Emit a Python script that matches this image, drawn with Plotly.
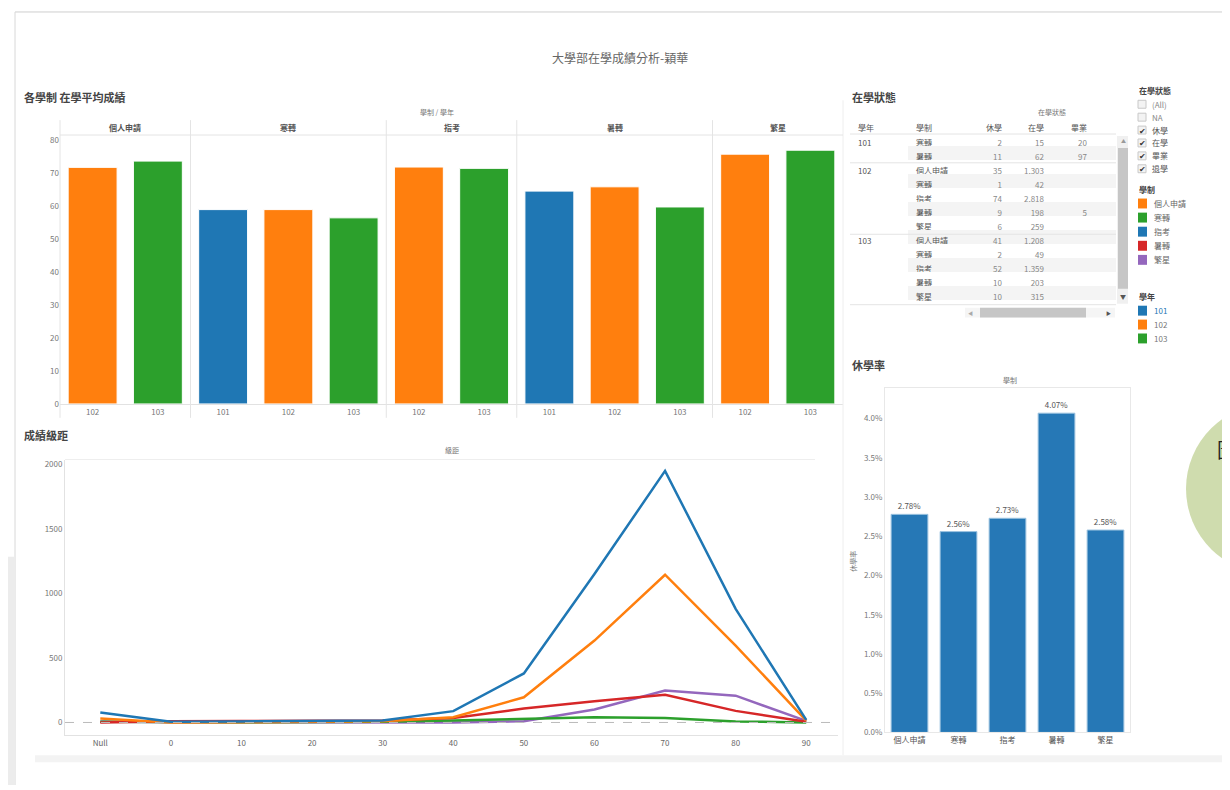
import plotly.graph_objects as go

# the page body has an 8px margin, so the figure is drawn 8px in from the corner
OFF = 8
W, H = 1230 - OFF, 790 - OFF
FONT = "Noto Sans CJK TC, Noto Sans, sans-serif"


def fx(x):
    return (x - OFF) / W


def fy(y):
    return 1 - (y - OFF) / H


# ---- data ----
systems = ['個人申請', '寒轉', '指考', '暑轉', '繁星']
system_colors = ['#ff7f0e', '#2ca02c', '#1f77b4', '#d62728', '#9467bd']
years = ['101', '102', '103']
year_colors = ['#1f77b4', '#ff7f0e', '#2ca02c']

# 各學制 在學平均成績
avg_system = ['個人申請', '個人申請', '寒轉', '寒轉', '寒轉', '指考', '指考',
              '暑轉', '暑轉', '暑轉', '繁星', '繁星']
avg_year = ['102', '103', '101', '102', '103', '102', '103',
            '101', '102', '103', '102', '103']
avg_score = [71.7, 73.6, 58.9, 58.9, 56.4, 71.8, 71.4, 64.5, 65.8, 59.7, 75.7, 76.9]

# 成績級距
grade_bins = ['Null', '0', '10', '20', '30', '40', '50', '60', '70', '80', '90']
count_zhikao = [78, 5, 8, 10, 15, 88, 380, 1150, 1950, 880, 20]
count_geren = [30, 0, 2, 5, 10, 40, 195, 635, 1145, 595, 15]
count_shuzhuan = [0, 10, 12, 15, 15, 35, 108, 165, 215, 90, 5]
count_fanxing = [8, 1, 2, 3, 4, 0, 10, 100, 248, 208, 12]
count_hanzhuan = [5, 1, 2, 3, 5, 15, 30, 40, 35, 8, 0]

# 休學率
leave_rate = [2.78, 2.56, 2.73, 4.07, 2.58]
rate_ticks = [0, 0.5, 1, 1.5, 2, 2.5, 3, 3.5, 4]

# 在學狀態 table
tbl_year = ['101', '', '102', '', '', '', '', '103', '', '', '', '']
tbl_system = ['寒轉', '暑轉', '個人申請', '寒轉', '指考', '暑轉', '繁星',
              '個人申請', '寒轉', '指考', '暑轉', '繁星']
tbl_leave = ['2', '11', '35', '1', '74', '9', '6', '41', '2', '52', '10', '10']
tbl_enrolled = ['15', '62', '1,303', '42', '2,818', '198', '259',
                '1,208', '49', '1,359', '203', '315']
tbl_graduated = ['20', '97', '', '', '', '5', '', '', '', '', '', '']

status_filter = ['(All)', 'NA', '休學', '在學', '畢業', '退學']
status_checked = [False, False, True, True, True, True]

fig = go.Figure()

# ---- top: average score bars ----
ycol = dict(zip(years, year_colors))
idx = list(range(len(avg_score)))
for yr in years:
    xs = [i for i in idx if avg_year[i] == yr]
    fig.add_trace(go.Bar(
        x=xs, y=[avg_score[i] for i in xs], marker_color=ycol[yr],
        marker_line=dict(width=1, color='white'),
        width=0.75, xaxis='x', yaxis='y', showlegend=False,
    ))

# ---- bottom-left: grade distribution lines ----
lines = [('繁星', count_fanxing), ('寒轉', count_hanzhuan), ('暑轉', count_shuzhuan),
         ('個人申請', count_geren), ('指考', count_zhikao)]
scol = dict(zip(systems, system_colors))
for name, vals in lines:
    fig.add_trace(go.Scatter(
        x=grade_bins, y=vals, mode='lines', line=dict(color=scol[name], width=2.5),
        xaxis='x2', yaxis='y2', showlegend=False,
    ))

# ---- bottom-right: leave rate ----
fig.add_trace(go.Bar(
    x=systems, y=leave_rate, marker_color='#2678b6',
    marker_line=dict(width=1, color='#9cc3e0'),
    text=[f'{v:.2f}%' for v in leave_rate], textposition='outside',
    textfont=dict(size=8, color='#555'), cliponaxis=False,
    xaxis='x3', yaxis='y3', showlegend=False,
))

# ---- table ----
row_fill = ['white' if i % 2 == 0 else '#f4f4f4' for i in range(len(tbl_system))]
fig.add_trace(go.Table(
    domain=dict(x=[fx(850), fx(1116)], y=[fy(309), fy(117)]),
    columnwidth=[58, 52, 50, 42, 43, 21],
    header=dict(values=['學年', '學制', '休學', '在學', '畢業', ''],
                align=['left', 'left', 'right', 'right', 'right', 'right'],
                fill_color='white', line=dict(color='white', width=0),
                font=dict(family=FONT, size=8, color='#555'), height=15),
    cells=dict(values=[tbl_year, tbl_system, tbl_leave, tbl_enrolled, tbl_graduated,
                       [''] * len(tbl_system)],
               align=['left', 'left', 'right', 'right', 'right', 'right'],
               fill_color=[['white'] * len(tbl_system)] + [row_fill] * 5,
               line=dict(color='white', width=0),
               font=dict(family=FONT, size=8, color=['#555', '#555', '#888', '#888', '#888', '#888']),
               height=14),
))

tickfont = dict(size=8, color='#777')

fig.update_layout(
    width=W, height=H, margin=dict(l=0, r=0, t=0, b=0),
    paper_bgcolor='white', plot_bgcolor='white',
    font=dict(family=FONT, color='#555'),
    bargap=0.25,
    xaxis=dict(domain=[fx(60), fx(843)], anchor='y', range=[-0.5, 11.5], tickvals=idx,
               ticktext=avg_year, showline=True, linecolor='#e2e2e2', tickfont=tickfont,
               showgrid=False, zeroline=False, fixedrange=True),
    yaxis=dict(domain=[fy(406), fy(135)], anchor='x', range=[0, 81.5],
               tickvals=list(range(0, 81, 10)), showline=False, tickfont=tickfont,
               showgrid=False, zeroline=False, fixedrange=True),
    xaxis2=dict(domain=[fx(65), fx(838)], anchor='y2', range=[-0.5, 10.45], type='category',
                showline=True, tickfont=dict(size=8, color='#666'),
                showgrid=False, zeroline=False, linecolor='#e2e2e2', fixedrange=True),
    yaxis2=dict(domain=[fy(740), fy(462)], anchor='x2', range=[-100, 2038],
                tickvals=[0, 500, 1000, 1500, 2000], showline=True, linecolor='#e2e2e2',
                tickfont=tickfont, showgrid=False, zeroline=False, fixedrange=True),
    xaxis3=dict(domain=[fx(885), fx(1130)], anchor='y3', showline=True, mirror=True,
                tickfont=dict(size=8, color='#555'), linecolor='#e8e8e8',
                showgrid=False, zeroline=False, fixedrange=True),
    yaxis3=dict(domain=[fy(737), fy(390)], anchor='x3', range=[0, 4.39],
                tickvals=rate_ticks, ticktext=[f'{v:.1f}%' for v in rate_ticks],
                showline=True, mirror=True, linecolor='#e8e8e8', tickfont=tickfont,
                showgrid=False, zeroline=False, fixedrange=True),
)

ann = []
shapes = []


def text(x, y, s, size=8, color='#555', anchor='left', bold=False, angle=0):
    ann.append(dict(x=fx(x), y=fy(y), xref='paper', yref='paper', text=f'<b>{s}</b>' if bold else s,
                    showarrow=False, xanchor=anchor, yanchor='middle', textangle=angle,
                    font=dict(size=size, color=color, family=FONT)))


def line(x0, y0, x1, y1, color='#e4e4e4', width=1):
    shapes.append(dict(type='line', xref='paper', yref='paper', x0=fx(x0), y0=fy(y0),
                       x1=fx(x1), y1=fy(y1), line=dict(color=color, width=width)))


def rect(x0, y0, x1, y1, fill, lc=None, lw=0, layer='above', kind='rect'):
    shapes.append(dict(type=kind, xref='paper', yref='paper', x0=fx(x0), y0=fy(y0),
                       x1=fx(x1), y1=fy(y1), fillcolor=fill, layer=layer,
                       line=dict(color=lc or fill, width=lw)))


# frame
line(15, 11, 1230, 11, '#cfcfcf')
line(15, 11, 15, 790, '#d8d8d8')
rect(8, 560, 14, 790, '#ececec', layer='below')
rect(35, 760, 1230, 767, '#f3f3f3', layer='below')
line(843, 100, 843, 760, '#eeeeee')

# main title
text(620, 57, '大學部在學成績分析-穎華', size=12, color='#666', anchor='center')

# top chart headers
text(22, 97, '各學制 在學平均成績', size=11, color='#444', bold=True)
text(437, 112, '學制 / 學年', size=7, color='#777', anchor='center')
line(60, 135, 843, 135)
bounds = [60]
for s in systems:
    bounds.append(bounds[-1] + 65.25 * avg_system.count(s))
for i, s in enumerate(systems):
    text((bounds[i] + bounds[i + 1]) / 2, 127, s, size=8, color='#555', anchor='center', bold=True)
for b in bounds[:-1]:
    line(b, 120, b, 420)

# line chart headers
text(22, 437, '成績級距', size=11, color='#444', bold=True)
text(452, 452, '級距', size=7, color='#777', anchor='center')
line(65, 462, 815, 462, '#eeeeee')
shapes.append(dict(type='line', xref='x2 domain', yref='y2', x0=0, x1=1, y0=0, y1=0,
                   line=dict(color='#bbbbbb', width=1, dash='dash')))

# leave rate headers
text(850, 367, '休學率', size=11, color='#444', bold=True)
text(1010, 382, '學制', size=7, color='#777', anchor='center')
text(853, 565, '休學率', size=7, color='#777', anchor='center', angle=-90)

# table decorations
text(850, 97, '在學狀態', size=11, color='#444', bold=True)
text(1052, 112, '在學狀態', size=7, color='#777', anchor='center')
line(850, 134, 1116, 134)
line(850, 163, 1116, 163)
line(850, 235, 1116, 235)
line(850, 306, 1116, 306)
rect(1117, 136, 1128, 305, '#f0f0f0')
rect(1118, 148, 1128, 290, '#c6c6c6')
text(1123, 141, '▲', size=5, color='#999', anchor='center')
text(1123, 298, '▼', size=6, color='#555', anchor='center')
rect(965, 309, 1115, 319, '#f5f5f5')
rect(980, 309, 1086, 319, '#c6c6c6')
text(970, 314, '◀', size=5, color='#aaa', anchor='center')
text(1108, 314, '▶', size=5, color='#555', anchor='center')

# right legend panel
text(1137, 90, '在學狀態', size=8, color='#444', bold=True)
for i, (lab, chk) in enumerate(zip(status_filter, status_checked)):
    yy = 104 + 13 * i
    rect(1138, yy - 4, 1146, yy + 4, '#f3f3f3', lc='#c8c8c8', lw=1)
    if chk:
        text(1142, yy, '✔', size=8, color='#333', anchor='center')
    text(1150, yy, lab, size=8, color='#888' if not chk else '#555')

text(1137, 190, '學制', size=8, color='#444', bold=True)
for i, (lab, c) in enumerate(zip(systems, system_colors)):
    yy = 204 + 14.2 * i
    rect(1138, yy - 5, 1147, yy + 5, c)
    text(1152, yy, lab, size=8, color='#666')

text(1137, 298, '學年', size=8, color='#444', bold=True)
for i, (lab, c) in enumerate(zip(years, year_colors)):
    yy = 312 + 14 * i
    rect(1138, yy - 5, 1147, yy + 5, c)
    text(1152, yy, lab, size=8, color='#1f77b4' if i == 0 else '#777')

# decorative circle at right edge
rect(1186, 405, 1360, 578, '#cfdcae', kind='circle')
text(1215, 452, '圖', size=20, color='#222')

fig.update_layout(annotations=ann, shapes=shapes)
fig.write_html("out.html")
